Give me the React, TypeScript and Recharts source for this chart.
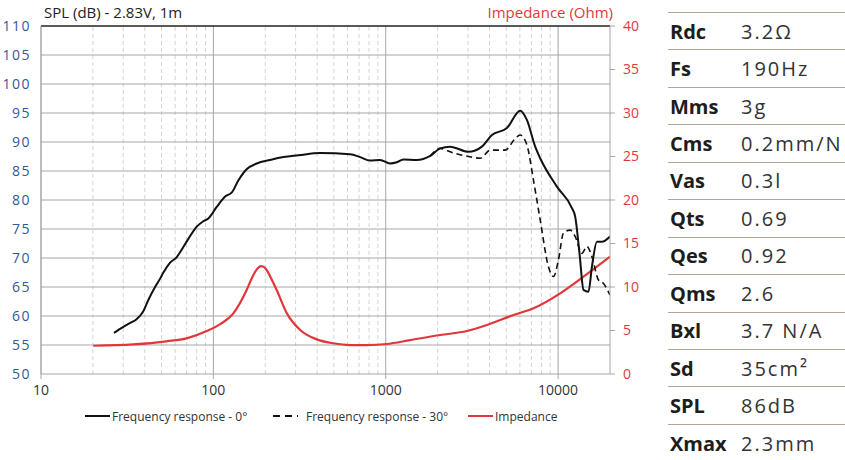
import React from 'react';
import { ComposedChart, Line, XAxis, YAxis, ReferenceLine } from 'recharts';

// Frequency response 0° (Hz / dB)
const fr0Freq = [26.5, 29.9, 33, 36, 39, 42, 45.9, 49, 51.3, 56.1, 61.5, 64.1, 71.6, 80.1, 87, 93.5, 104.6, 117, 128, 139.8, 156, 178.6, 213, 255, 311, 416, 621, 710, 811, 927, 1060, 1160, 1268, 1514, 1811, 2069, 2365, 3020, 3612, 4129, 5045, 6026, 6590, 7362, 7870, 9840, 12030, 12570, 13310, 14040, 15010, 15710, 16790, 17950, 20000];
const fr0Spl = [57.1, 58.1, 58.8, 59.5, 60.7, 62.8, 65.0, 66.4, 67.5, 69.2, 70.2, 71.0, 73.3, 75.4, 76.3, 76.8, 78.8, 80.6, 81.3, 83.4, 85.3, 86.3, 86.9, 87.4, 87.7, 88.1, 87.9, 87.4, 86.8, 86.9, 86.3, 86.5, 87.0, 86.9, 87.6, 88.9, 89.2, 88.3, 89.2, 91.2, 92.4, 95.4, 93.8, 89.2, 87.2, 82.3, 78.6, 77.1, 70.8, 64.5, 64.2, 68.5, 72.8, 72.8, 73.7];

// Frequency response 30° (only where it leaves the 0° curve)
const fr30Freq = [1811, 2069, 2365, 2700, 3020, 3532, 4036, 4932, 5636, 6026, 6590, 7197, 7870, 8790, 9400, 10050, 10740, 11750, 12570, 13740, 14690, 15710, 17150, 18340, 20000];
const fr30Spl = [87.6, 88.9, 88.3, 87.8, 87.5, 87.2, 88.6, 88.6, 90.6, 91.2, 89.5, 83.4, 76.6, 68.5, 66.8, 69.7, 74.3, 74.8, 73.7, 70.8, 72.0, 70.2, 66.2, 65.6, 63.6];

// Impedance (Hz / Ohm)
const impFreq = [20.1, 34.3, 53.6, 70, 91.6, 109, 130.6, 156, 167, 178.6, 189, 198, 204, 215, 233, 267, 319, 398, 497, 621, 776, 1014, 1387, 2069, 2958, 3864, 5510, 7200, 10280, 14040, 20000];
const impOhm = [3.25, 3.41, 3.76, 4.1, 4.94, 5.7, 6.97, 9.66, 11.0, 12.03, 12.41, 12.25, 11.95, 11.1, 9.66, 6.97, 5.06, 3.98, 3.53, 3.33, 3.33, 3.45, 3.9, 4.48, 4.94, 5.63, 6.78, 7.55, 9.27, 11.18, 13.48];

const decadeTicks = [10, 100, 1000, 10000];
const minorFreqs = [20, 30, 40, 50, 60, 70, 80, 90, 200, 300, 400, 500, 600, 700, 800, 900, 2000, 3000, 4000, 5000, 6000, 7000, 8000, 9000];
const splTicks = [50, 55, 60, 65, 70, 75, 80, 85, 90, 95, 100, 105, 110];
const impTicks = [0, 5, 10, 15, 20, 25, 30, 35, 40];

const paramNames = ['Rdc', 'Fs', 'Mms', 'Cms', 'Vas', 'Qts', 'Qes', 'Qms', 'Bxl', 'Sd', 'SPL', 'Xmax'];
const paramValues = ['3.2Ω', '190Hz', '3g', '0.2mm/N', '0.3l', '0.69', '0.92', '2.6', '3.7 N/A', '35cm²', '86dB', '2.3mm'];

const zip = (xs: number[], ys: number[]) => xs.map((f, i) => ({ f, v: ys[i] }));
const fr0Data = zip(fr0Freq, fr0Spl);
const fr30Data = zip(fr30Freq, fr30Spl);
const impData = zip(impFreq, impOhm);

const FONT = '"Open Sans", sans-serif';
const RED = '#e2373a';
const BLUE = '#2f5a96';

function ChartLegend() {
  const items = [
    { left: 85, label: 'Frequency response - 0°', color: '#111', dash: undefined },
    { left: 273, label: 'Frequency response - 30°', color: '#111', dash: '7 5' },
    { left: 468, label: 'Impedance', color: RED, dash: undefined },
  ];
  return (
    <>
      {items.map((it) => (
        <div key={it.label} style={{ position: 'absolute', left: it.left, top: 407, display: 'flex', alignItems: 'center', fontFamily: FONT, fontSize: 12, color: '#333' }}>
          <svg width={26} height={18}>
            <line x1={0} y1={9} x2={25} y2={9} stroke={it.color} strokeWidth={2} strokeDasharray={it.dash} />
          </svg>
          <span style={{ marginLeft: it.dash ? 7 : 1 }}>{it.label}</span>
        </div>
      ))}
    </>
  );
}

export default function App() {
  return (
    <div style={{ position: 'absolute', left: 0, top: 0, width: 845, height: 460, background: '#fff', fontFamily: FONT }}>
      <ComposedChart width={660} height={460} margin={{ top: 26, right: 10, bottom: 56, left: 5 }}>
        <XAxis
          dataKey="f"
          type="number"
          scale="log"
          domain={[10, 20000]}
          ticks={decadeTicks}
          allowDataOverflow
          height={30}
          stroke="#a6a6a6"
          tickSize={5}
          tickMargin={6}
          tick={{ fill: '#333', fontSize: 14, fontFamily: FONT }}
        />
        <YAxis
          yAxisId="spl"
          domain={[50, 110]}
          ticks={splTicks}
          width={36}
          stroke="#a6a6a6"
          tickLine={false}
          tickMargin={4}
          tick={{ fill: BLUE, fontSize: 14, fontFamily: FONT, letterSpacing: 1.5 }}
        />
        <YAxis
          yAxisId="imp"
          orientation="right"
          domain={[0, 40]}
          ticks={impTicks}
          width={40}
          stroke="#a6a6a6"
          tickSize={5}
          tickMargin={8}
          tick={{ fill: RED, fontSize: 14, fontFamily: FONT }}
        />
        {minorFreqs.map((f) => (
          <ReferenceLine key={'m' + f} x={f} yAxisId="spl" stroke="#d4d4d4" strokeDasharray="4 3" />
        ))}
        {decadeTicks.map((f) => (
          <ReferenceLine key={'d' + f} x={f} yAxisId="spl" stroke="#a6a6a6" />
        ))}
        {splTicks.slice(1, -1).map((v) => (
          <ReferenceLine key={'h' + v} y={v} yAxisId="spl" stroke="#a6a6a6" />
        ))}
        <ReferenceLine y={110} yAxisId="spl" stroke="#222" strokeWidth={1.5} />
        <Line yAxisId="imp" data={impData} dataKey="v" type="monotone" stroke={RED} strokeWidth={2.2} dot={false} isAnimationActive={false} />
        <Line yAxisId="spl" data={fr30Data} dataKey="v" type="monotone" stroke="#111" strokeWidth={1.6} strokeDasharray="6 4" dot={false} isAnimationActive={false} />
        <Line yAxisId="spl" data={fr0Data} dataKey="v" type="monotone" stroke="#111" strokeWidth={2} dot={false} isAnimationActive={false} />
      </ComposedChart>

      <div style={{ position: 'absolute', left: 44, top: 2, fontSize: 15, color: '#222' }}>SPL (dB) - 2.83V, 1m</div>
      <div style={{ position: 'absolute', right: 845 - 613, top: 2, fontSize: 15, color: RED }}>Impedance (Ohm)</div>

      <ChartLegend />

      <div style={{ position: 'absolute', left: 668, top: 12, width: 177 }}>
        {paramNames.map((name, i) => (
          <div key={name} style={{ height: 37.45, boxSizing: 'border-box', borderTop: '1px solid #b3a493', display: 'flex', alignItems: 'center', fontSize: 20, color: '#1d1d1b' }}>
            <span style={{ width: 71, paddingLeft: 2, fontWeight: 700 }}>{name}</span>
            <span style={{ color: '#333', letterSpacing: 2 }}>{paramValues[i]}</span>
          </div>
        ))}
      </div>
    </div>
  );
}
